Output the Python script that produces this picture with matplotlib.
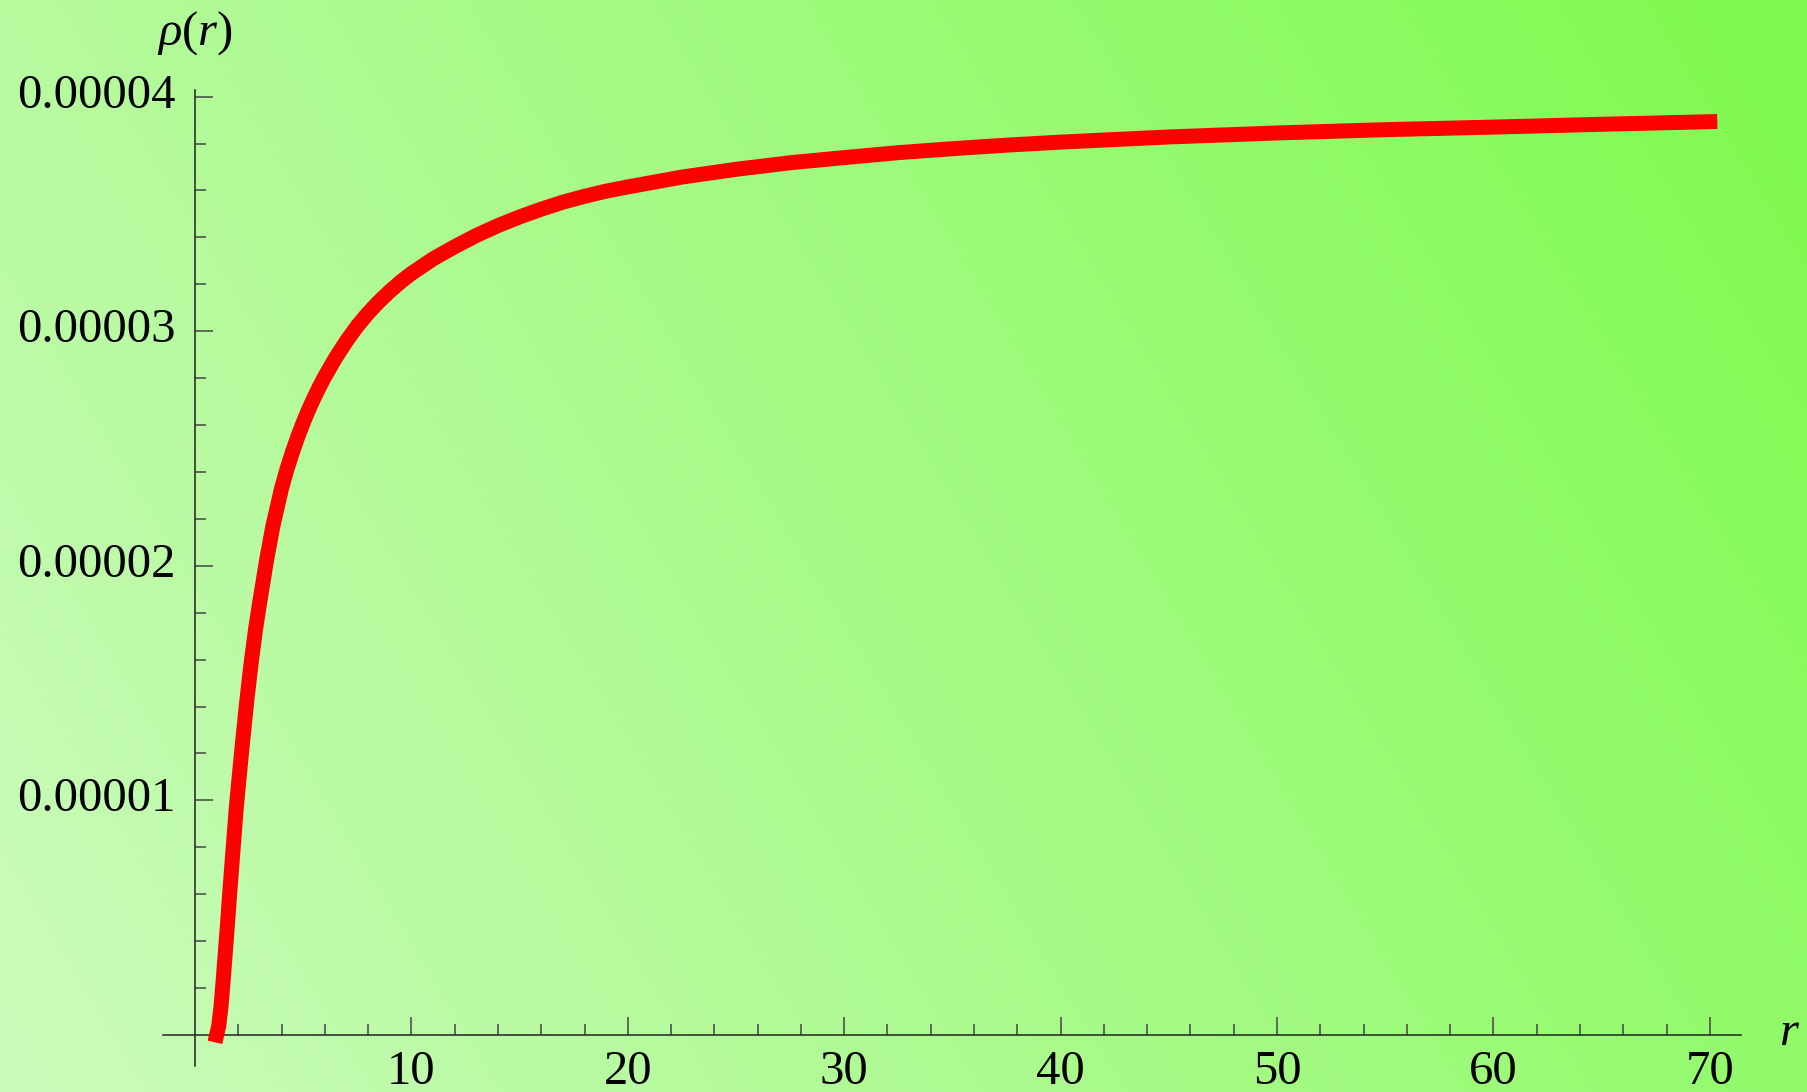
import numpy as np
import matplotlib
matplotlib.use("Agg")
import matplotlib.pyplot as plt
from matplotlib.ticker import FixedLocator, FixedFormatter
from matplotlib.transforms import ScaledTranslation

# Density profile rho(r), rho given in units of 1e-5
r_vals = [1.0, 1.1, 1.2, 1.3, 1.4, 1.5, 1.6, 1.7, 1.8, 1.9, 2.0, 2.2, 2.4,
          2.6, 2.8, 3.0, 3.3, 3.6, 4.0, 4.25, 4.5, 4.75, 5.0, 5.25, 5.5,
          5.75, 6.0, 6.5, 7.0, 7.5, 8.0, 8.5, 9.0, 9.5, 10.0, 11.0, 12.0,
          13.0, 14.0, 15.0, 16.0, 17.0, 18.0, 19.0, 20.0, 22.5, 25.0, 27.5,
          30.0, 32.5, 35.0, 37.5, 40.0, 45.0, 50.0, 55.0, 60.0, 65.0, 70.0]
rho_vals_e5 = [0.0, 0.04, 0.12, 0.23, 0.35, 0.47, 0.60, 0.72, 0.84, 0.96,
               1.06, 1.25, 1.43, 1.59, 1.73, 1.85, 2.02, 2.17, 2.33, 2.412,
               2.484, 2.55, 2.61, 2.665, 2.716, 2.763, 2.807, 2.887, 2.958,
               3.022, 3.077, 3.126, 3.17, 3.21, 3.246, 3.308, 3.36, 3.408,
               3.45, 3.487, 3.52, 3.55, 3.575, 3.597, 3.615, 3.657, 3.69,
               3.718, 3.74, 3.761, 3.778, 3.793, 3.806, 3.828, 3.845, 3.859,
               3.87, 3.882, 3.893]
rho_vals = [v * 1e-5 for v in rho_vals_e5]

x_major = [10, 20, 30, 40, 50, 60, 70]
x_labels = ["10", "20", "30", "40", "50", "60", "70"]
y_major = [1e-5, 2e-5, 3e-5, 4e-5]
y_labels = ["0.00001", "0.00002", "0.00003", "0.00004"]

W, H = 1808, 1092
DPI = 100
plt.rcParams["font.family"] = ["Liberation Serif", "DejaVu Serif"]
plt.rcParams["mathtext.fontset"] = "custom"
plt.rcParams["mathtext.rm"] = "Liberation Serif"
plt.rcParams["mathtext.it"] = "Liberation Serif:italic"

fig = plt.figure(figsize=(W / DPI, H / DPI), dpi=DPI)

# diagonal green gradient background
bg = fig.add_axes([0, 0, 1, 1], zorder=-10)
yy, xx = np.mgrid[0:H, 0:W]
yp = H - 1 - yy
t = (xx * W + yp * H) / (W * W + H * H)
c0 = np.array([0.80, 0.985, 0.74])
c1 = np.array([0.49, 0.98, 0.30])
img = c0[None, None, :] * (1 - t[..., None]) + c1[None, None, :] * t[..., None]
bg.imshow(img, aspect="auto", extent=[0, 1, 0, 1], interpolation="bilinear")
bg.set_axis_off()

# plotting axes: pixel geometry of the axis lines
left_px, right_px = 163, 1741
top_px, bottom_px = 90, 1066
ax = fig.add_axes([left_px / W, 1 - bottom_px / H,
                   (right_px - left_px) / W, (bottom_px - top_px) / H])
ax.patch.set_visible(False)

x0_px, xs = 195.0, 21.64
y0_px, ys = 1035.0, 234.6e5
ax.set_xlim((left_px - x0_px) / xs, (right_px - x0_px) / xs)
ax.set_ylim((y0_px - bottom_px) / ys, (y0_px - top_px) / ys)

ax.plot(r_vals, rho_vals, color="#ff0000", lw=10.8,
        solid_capstyle="projecting", solid_joinstyle="round", zorder=3)

for s in ["top", "right"]:
    ax.spines[s].set_visible(False)
ax.spines["left"].set_position(("data", 0))
ax.spines["bottom"].set_position(("data", 0))
for s in ["left", "bottom"]:
    ax.spines[s].set_linewidth(1.1)
    ax.spines[s].set_color("#222222")

ax.xaxis.set_major_locator(FixedLocator(x_major))
ax.xaxis.set_major_formatter(FixedFormatter(x_labels))
ax.xaxis.set_minor_locator(FixedLocator([v for v in range(2, 71, 2) if v % 10]))
ax.yaxis.set_major_locator(FixedLocator(y_major))
ax.yaxis.set_major_formatter(FixedFormatter(y_labels))
ax.yaxis.set_minor_locator(FixedLocator([k * 0.2e-5 for k in range(1, 20) if k % 5]))

ax.tick_params(which="both", direction="in", color="#444444", width=1.1,
               labelsize=35, labelcolor="black")
ax.tick_params(which="major", length=13)
ax.tick_params(which="minor", length=8)
ax.tick_params(axis="x", which="major", pad=11)
ax.tick_params(axis="y", which="major", pad=14)

# lift the y tick labels slightly above their ticks
lift = ScaledTranslation(0, 0.06, fig.dpi_scale_trans)
for lab in ax.get_yticklabels():
    lab.set_transform(lab.get_transform() + lift)

# axis labels
fig.text(195 / W, 1 - 33 / H, r"$\rho(r)$", fontsize=35, ha="center", va="center")
fig.text(1790 / W, 1 - 1033 / H, r"$r$", fontsize=35, ha="center", va="center")

fig.savefig("out.png", dpi=DPI)
